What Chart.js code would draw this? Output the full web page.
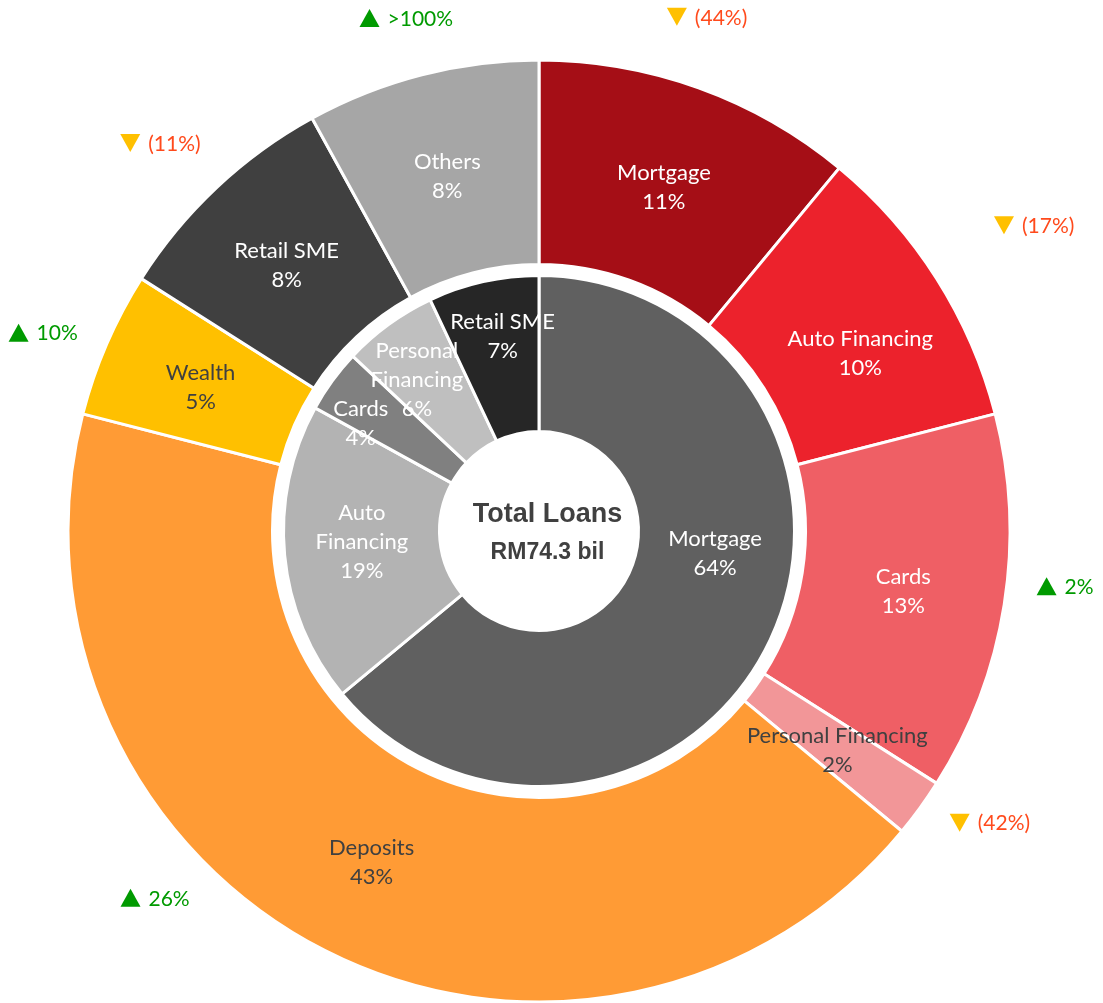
<!DOCTYPE html>
<html>
<head>
<meta charset="utf-8">
<title>Total Loans</title>
<script src="https://cdn.jsdelivr.net/npm/chart.js@4"></script>
<style>
  html, body { margin: 0; padding: 0; background: #ffffff; }
  #wrap { width: 1103px; height: 1003px; position: relative; }
</style>
</head>
<body>
<div id="wrap"><canvas id="c" width="1103" height="1003"></canvas></div>
<script>
// Outer ring: business mix and year-on-year growth
const mixLabels = ['Mortgage', 'Auto Financing', 'Cards', 'Personal Financing', 'Deposits', 'Wealth', 'Retail SME', 'Others'];
const mixShare = [11, 10, 13, 2, 43, 5, 8, 8];
const mixGrowth = ['(44%)', '(17%)', '2%', '(42%)', '26%', '10%', '(11%)', '>100%'];
const mixGrowthUp = [false, false, true, false, true, true, false, true];

// Inner ring: loan composition
const loanLabels = ['Mortgage', 'Auto Financing', 'Cards', 'Personal Financing', 'Retail SME'];
const loanShare = [64, 19, 4, 6, 7];

// Centre caption
const centerTitle = 'Total Loans';
const centerValue = 'RM74.3 bil';

// ---- styling ----
const mixColors = ['#A50E16', '#EC222C', '#EF5F65', '#F29698', '#FF9B35', '#FFC000', '#404040', '#A6A6A6'];
const mixTextColors = ['#FFFFFF', '#FFFFFF', '#FFFFFF', '#404040', '#404040', '#404040', '#FFFFFF', '#FFFFFF'];
const loanColors = ['#606060', '#B3B3B3', '#808080', '#BFBFBF', '#262626'];
const loanTextColors = ['#FFFFFF', '#FFFFFF', '#FFFFFF', '#FFFFFF', '#FFFFFF'];

// label placement tweaks (degrees clockwise from slice middle, radius in px or null = ring middle)
const mixLabelTurn = [0, 3, 0, 0, 0, 0, 0, 0];
const loanLabelTurn = [-18, 2, -5, -3, 2];
const loanLabelRadius = [null, null, 208, 194, 198];
// growth markers: turn from slice middle, distance beyond the outer edge
const growthTurn = [-1.7, 0.7, -3, -3.1, 19.3, -1.6, -1.1, -0.1];
const growthGap = [70, 111, 58, 66, 60, 63, 71, 59];

const LABEL_FONT = '22px Lato';
const GROWTH_FONT = '21px Lato';
const LINE_H = 29;
const OUTER_R = 471;
const HOLE_R = 99.5;

function wrapWords(ctx, text, maxW) {
  const words = text.split(' ');
  const lines = [];
  let cur = '';
  words.forEach(w => {
    const t = cur ? cur + ' ' + w : w;
    if (cur && ctx.measureText(t).width > maxW) { lines.push(cur); cur = w; }
    else cur = t;
  });
  if (cur) lines.push(cur);
  return lines;
}

function drawRingLabels(chart, dsIndex, names, values, colors, turns, radii, wrapW, dy) {
  const ctx = chart.ctx;
  const meta = chart.getDatasetMeta(dsIndex);
  ctx.save();
  ctx.font = LABEL_FONT;
  ctx.textAlign = 'center';
  ctx.textBaseline = 'middle';
  meta.data.forEach((arc, i) => {
    const p = arc.getProps(['x', 'y', 'startAngle', 'endAngle', 'innerRadius', 'outerRadius'], true);
    const a = (p.startAngle + p.endAngle) / 2 + (turns[i] || 0) * Math.PI / 180;
    const r = (radii && radii[i] != null) ? radii[i] : (p.innerRadius + p.outerRadius) / 2;
    const cx = p.x + Math.cos(a) * r;
    const cy = p.y + Math.sin(a) * r + dy;
    const lines = wrapWords(ctx, names[i], wrapW).concat([values[i] + '%']);
    const top = cy - (lines.length - 1) * LINE_H / 2;
    ctx.fillStyle = colors[i];
    lines.forEach((ln, k) => ctx.fillText(ln, cx, top + k * LINE_H));
  });
  ctx.restore();
}

function drawGrowth(chart) {
  const ctx = chart.ctx;
  const meta = chart.getDatasetMeta(0);
  ctx.save();
  ctx.font = GROWTH_FONT;
  ctx.textBaseline = 'middle';
  ctx.textAlign = 'left';
  meta.data.forEach((arc, i) => {
    const p = arc.getProps(['x', 'y', 'startAngle', 'endAngle', 'outerRadius'], true);
    const a = (p.startAngle + p.endAngle) / 2 + growthTurn[i] * Math.PI / 180;
    const r = p.outerRadius + growthGap[i];
    const gx = p.x + Math.cos(a) * r;
    const gy = p.y + Math.sin(a) * r;
    const up = mixGrowthUp[i];
    const triW = 20, triH = 18, gap = 8;
    const tw = ctx.measureText(mixGrowth[i]).width;
    const left = gx - (triW + gap + tw) / 2;
    ctx.beginPath();
    if (up) {
      ctx.moveTo(left, gy + triH / 2);
      ctx.lineTo(left + triW, gy + triH / 2);
      ctx.lineTo(left + triW / 2, gy - triH / 2);
    } else {
      ctx.moveTo(left, gy - triH / 2);
      ctx.lineTo(left + triW, gy - triH / 2);
      ctx.lineTo(left + triW / 2, gy + triH / 2);
    }
    ctx.closePath();
    ctx.fillStyle = up ? '#009A00' : '#FFC000';
    ctx.fill();
    ctx.fillStyle = up ? '#009A00' : '#FF4A1C';
    ctx.fillText(mixGrowth[i], left + triW + gap, gy + 1);
  });
  ctx.restore();
}

const sliceText = {
  id: 'sliceText',
  afterDatasetsDraw(chart) {
    drawRingLabels(chart, 0, mixLabels, mixShare, mixTextColors, mixLabelTurn, null, Infinity, 3);
    drawRingLabels(chart, 2, loanLabels, loanShare, loanTextColors, loanLabelTurn, loanLabelRadius, 110, 0);
    drawGrowth(chart);

    const arc = chart.getDatasetMeta(0).data[0];
    const cx = arc.x + 8.5, cy = arc.y;
    const ctx = chart.ctx;
    ctx.save();
    ctx.fillStyle = '#404040';
    ctx.textAlign = 'center';
    ctx.textBaseline = 'alphabetic';
    ctx.font = 'bold 27px "Liberation Sans", Arial, sans-serif';
    ctx.fillText(centerTitle, cx, cy - 9);
    ctx.font = 'bold 23px "Liberation Sans", Arial, sans-serif';
    ctx.fillText(centerValue, cx, cy + 28);
    ctx.restore();
  }
};

new Chart(document.getElementById('c'), {
  type: 'doughnut',
  data: {
    labels: mixLabels,
    datasets: [
      { label: 'Business mix', data: mixShare, backgroundColor: mixColors,
        borderColor: '#FFFFFF', borderWidth: 3, weight: 204.5 },
      { label: 'ring gap', data: [1], backgroundColor: 'rgba(0,0,0,0)',
        borderWidth: 0, weight: 11 },
      { label: 'Loans', data: loanShare, backgroundColor: loanColors,
        borderColor: '#FFFFFF', borderWidth: 3, weight: 156 }
    ]
  },
  options: {
    responsive: false,
    animation: false,
    events: [],
    radius: OUTER_R,
    cutout: (HOLE_R / OUTER_R * 100) + '%',
    layout: { padding: { left: 0, right: 25, top: 59, bottom: 0 } },
    plugins: { legend: { display: false }, tooltip: { enabled: false } }
  },
  plugins: [sliceText]
});
</script>
</body>
</html>
